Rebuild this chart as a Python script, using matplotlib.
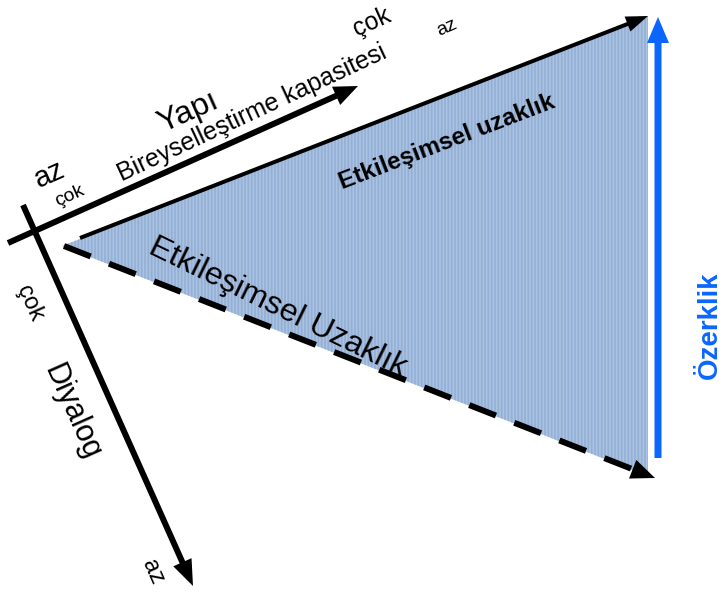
import numpy as np
import matplotlib.pyplot as plt
from matplotlib.patches import Polygon

plt.rcParams['font.family'] = ['Liberation Sans', 'DejaVu Sans']

# diagram geometry, in pixel coords (y goes down)
tri_x = [62, 648, 648]
tri_y = [246, 16, 476]
yapi_axis = [(8, 243), (358, 86)]
diyalog_axis = [(23, 205), (193, 586)]
top_edge = [(80, 238), (648, 16)]
bottom_edge = [(64, 246), (655, 478)]
ozerklik_axis = [(658, 458), (658, 17)]

fig = plt.figure(figsize=(7.26, 5.97), dpi=100)
ax = fig.add_axes([0, 0, 1, 1])
ax.set_xlim(0, 726)
ax.set_ylim(597, 0)
ax.axis('off')

# striped blue triangle
plt.rcParams['hatch.linewidth'] = 1.2
tri = Polygon(list(zip(tri_x, tri_y)), closed=True, facecolor='#abc3e1',
              edgecolor='#93afd6', hatch='|||||', linewidth=0, zorder=1)
ax.add_patch(tri)

def arr(p0, p1, w, hw, hl, color='black', z=3):
    ax.arrow(p0[0], p0[1], p1[0] - p0[0], p1[1] - p0[1], width=w,
             head_width=hw, head_length=hl, length_includes_head=True,
             color=color, linewidth=0, zorder=z)

arr(*yapi_axis, 6, 20, 24)
arr(*diyalog_axis, 6, 20, 26)
arr(*top_edge, 4, 16, 22)
arr(*ozerklik_axis, 7, 22, 26, color='#0a66ff')

# dashed bottom edge + head
(x0, y0), (x1, y1) = bottom_edge
L = np.hypot(x1 - x0, y1 - y0)
ux, uy = (x1 - x0) / L, (y1 - y0) / L
ax.plot([x0, x1 - 20 * ux], [y0, y1 - 20 * uy], color='black', lw=4.3,
        dashes=(4.8, 3.3), solid_capstyle='butt', zorder=3)
arr((x1 - 24 * ux, y1 - 24 * uy), (x1, y1), 0.1, 20, 24)

# labels
ax.text(188, 112, 'Yapı', fontsize=23, rotation=24, ha='center', va='center')
ax.text(252, 113, 'Bireyselleştirme kapasitesi', fontsize=18, rotation=25,
        ha='center', va='center')
ax.text(372, 22, 'çok', fontsize=18, rotation=24, ha='center', va='center')
ax.text(447, 28, 'az', fontsize=14, rotation=24, ha='center', va='center')
ax.text(50, 174, 'az', fontsize=21, rotation=24, ha='center', va='center')
ax.text(70, 196, 'çok', fontsize=14, rotation=24, ha='center', va='center')
ax.text(447, 142, 'Etkileşimsel uzaklık', fontsize=17.5, fontweight='bold',
        rotation=21, ha='center', va='center')
ax.text(278, 307, 'Etkileşimsel Uzaklık', fontsize=23, rotation=-26,
        ha='center', va='center')
ax.text(710, 325, 'Özerklik', fontsize=20, fontweight='bold', color='#0a66ff',
        rotation=90, ha='center', va='center')
ax.text(30, 303, 'çok', fontsize=17, rotation=-66, ha='center', va='center')
ax.text(72, 412, 'Diyalog', fontsize=22, rotation=-66, ha='center', va='center')
ax.text(153, 572, 'az', fontsize=17, rotation=-66, ha='center', va='center')

fig.savefig('out.png', dpi=100)
